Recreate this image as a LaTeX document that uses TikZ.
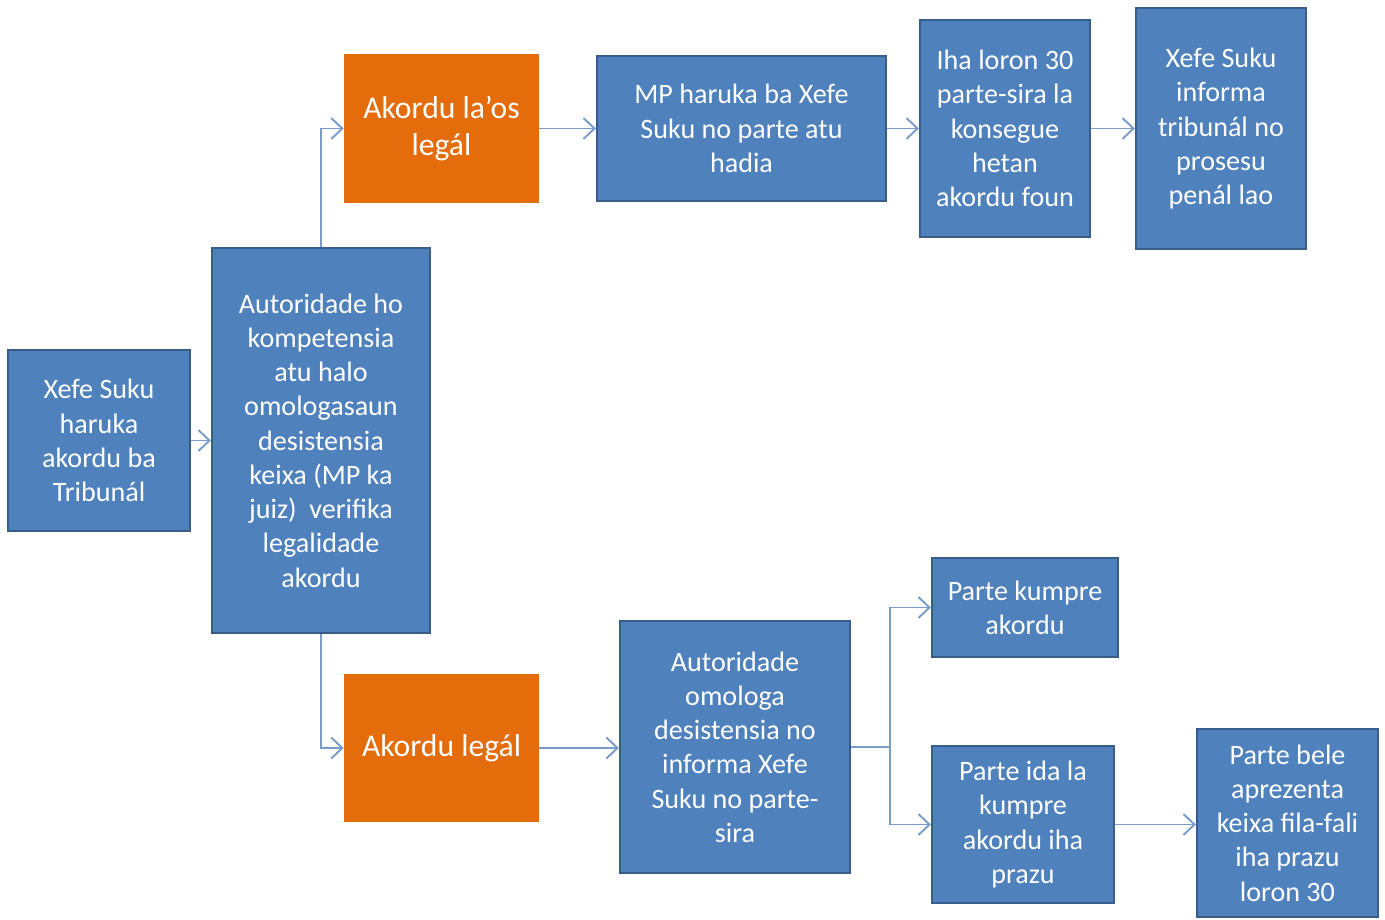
\documentclass[tikz,border=0pt]{standalone}
\usepackage{fontspec}
\setmainfont{Carlito}
\usepackage{tikz}
\usetikzlibrary{arrows.meta}
\usetikzlibrary{positioning}
\definecolor{boxblue}{HTML}{4F81BD}
\definecolor{boxedge}{HTML}{385D8A}
\definecolor{boxorange}{HTML}{E46C0A}
\definecolor{linkblue}{HTML}{7A9CCB}
\tikzset{bluebox/.style = {draw = boxedge, line width = 1.3pt, fill = boxblue,
                           text = white, align = center, inner sep = 0,
                           font = \fontsize{16}{19.5}\selectfont}}
\tikzset{orangebox/.style = {fill = boxorange, text = white, align = center,
                             inner sep = 0, font = \fontsize{18}{21.5}\selectfont}}
\tikzset{link/.style = {draw = linkblue, line width = 1.1pt,
                        -{Straight Barb[length = 2.2mm, width = 4.2mm]}}}
\tikzset{wire/.style = {draw = linkblue, line width = 1.1pt}}

\begin{document}
\begin{tikzpicture}
      \useasboundingbox (0, 0) rectangle (27.7, -18.38);

      \node [bluebox, minimum width = 3.64cm, minimum height = 3.62cm] (xefe) at (1.98, -8.81)
            {Xefe Suku\\ haruka\\ akordu ba\\ Tribunál};
      \node [bluebox, minimum width = 4.36cm, minimum height = 7.70cm] (autor) at (6.42, -8.81)
            {Autoridade ho\\ kompetensia\\ atu halo\\ omologasaun\\ desistensia\\ keixa (MP ka\\ juiz)~ verifika\\ legalidade\\ akordu};

      \node [orangebox, minimum width = 3.90cm, minimum height = 2.98cm] (ilegal) at (8.83, -2.57)
            {Akordu la’os\\ legál};
      \node [orangebox, minimum width = 3.90cm, minimum height = 2.96cm] (legal) at (8.83, -14.96)
            {Akordu legál};

      % upper branch
      \node [bluebox, minimum width = 5.78cm, minimum height = 2.90cm] (mp) at (14.83, -2.57)
            {MP haruka ba Xefe\\ Suku no parte atu\\ hadia};
      \node [bluebox, minimum width = 3.40cm, minimum height = 4.34cm] (loron) at (20.10, -2.57)
            {Iha loron 30\\ parte-sira la\\ konsegue\\ hetan\\ akordu foun};
      \node [bluebox, minimum width = 3.40cm, minimum height = 4.82cm] (informa) at (24.42, -2.57)
            {Xefe Suku\\ informa\\ tribunál no\\ prosesu\\ penál lao};

      % lower branch
      \node [bluebox, minimum width = 4.60cm, minimum height = 5.04cm] (omologa) at (14.70, -14.94)
            {Autoridade\\ omologa\\ desistensia no\\ informa Xefe\\ Suku no parte-\\ sira};
      \node [bluebox, minimum width = 3.72cm, minimum height = 1.98cm] (kumpre) at (20.50, -12.15)
            {Parte kumpre\\ akordu};
      \node [bluebox, minimum width = 3.64cm, minimum height = 3.14cm] (lakumpre) at (20.46, -16.49)
            {Parte ida la\\ kumpre\\ akordu iha\\ prazu};
      \node [bluebox, minimum width = 3.62cm, minimum height = 3.76cm] (bele) at (25.75, -16.46)
            {Parte bele\\ aprezenta\\ keixa fila-fali\\ iha prazu\\ loron 30};

      \coordinate (split) at (17.80, -14.94);

      \draw [link] (xefe) -- (autor);
      \draw [link] (autor.north) |- (ilegal.west);
      \draw [link] (autor.south) |- (legal.west);

      \draw [link] (ilegal) -- (mp);
      \draw [link] (mp.east |- loron.west) -- (loron.west);
      \draw [link] (loron) -- (informa);

      \draw [link] (legal.east) -- (omologa.west |- legal.east);
      \draw [wire] (omologa.east |- split) -- (split);
      \draw [link] (split) |- (kumpre.west);
      \draw [link] (split) |- (lakumpre.west);
      \draw [link] (lakumpre.east) -- (bele.west |- lakumpre.east);
    \end{tikzpicture}
\end{document}
